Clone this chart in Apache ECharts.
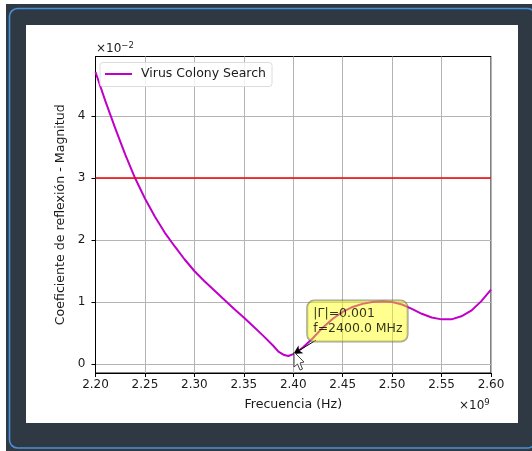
<!DOCTYPE html>
<html><head><meta charset="utf-8">
<style>html,body{margin:0;padding:0;background:#fff}#c{width:532px;height:451px}</style>
<script src="https://cdn.jsdelivr.net/npm/echarts@6/dist/echarts.min.js"></script>
</head><body><div id="c"></div>
<script>
const seriesName = 'Virus Colony Search';
const freq = [2.20,2.21,2.22,2.23,2.24,2.25,2.26,2.27,2.28,2.29,2.30,2.31,2.32,2.33,2.34,2.35,2.36,2.37,2.38,2.385,2.39,2.395,2.40,2.405,2.41,2.42,2.43,2.44,2.45,2.46,2.47,2.48,2.49,2.50,2.51,2.52,2.53,2.54,2.55,2.56,2.57,2.58,2.59,2.60];
const mag  = [4.71,4.24,3.80,3.38,3.00,2.67,2.38,2.12,1.90,1.69,1.50,1.34,1.19,1.04,0.89,0.75,0.60,0.45,0.29,0.20,0.15,0.13,0.16,0.21,0.27,0.42,0.59,0.73,0.84,0.92,0.97,1.00,1.01,1.00,0.96,0.89,0.81,0.75,0.72,0.72,0.77,0.86,1.01,1.20];
const threshold = [[2.2,3],[2.6,3]];
const xTicks = [2.2,2.25,2.3,2.35,2.4,2.45,2.5,2.55,2.6];
const yTicks = [0,1,2,3,4];
const annotPoint = [2.4,0.16];
const annotTail = [2.423,0.385];
const annotText = '|Γ|=0.001\nf=2400.0 MHz';
const font = '"DejaVu Sans"';
const ink = '#1a1a1a';

const axisCommon = {
  axisLine:{onZero:false,lineStyle:{color:'#000',width:1}},
  axisTick:{length:4,lineStyle:{color:'#000',width:1}},
  splitLine:{show:true,lineStyle:{color:'#b4b4b4',width:1}},
  nameTextStyle:{fontFamily:font,fontSize:12.6,color:ink}
};
const chart = echarts.init(document.getElementById('c'),null,{renderer:'canvas'});
chart.setOption({
  animation:false,
  backgroundColor:'#fff',
  grid:{left:95.5,right:41,top:56.5,height:316.5,show:true,borderColor:'#000',borderWidth:1,backgroundColor:'#fff'},
  legend:{
    data:[seriesName],left:100,top:62.5,orient:'horizontal',
    itemWidth:27,itemHeight:2,itemGap:6,padding:[5,6,6,5],
    backgroundColor:'rgba(255,255,255,0.8)',borderColor:'#dcdcdc',borderWidth:1,borderRadius:3,
    textStyle:{fontFamily:font,fontSize:12.5,color:ink,padding:[0,0,0,4]},
    icon:'rect'
  },
  xAxis:Object.assign({},axisCommon,{
    type:'value',min:2.2,max:2.6,name:'Frecuencia (Hz)',nameLocation:'middle',nameGap:25,
    axisTick:Object.assign({},axisCommon.axisTick,{customValues:xTicks}),
    axisLabel:{customValues:xTicks,formatter:v=>v.toFixed(2),fontFamily:font,fontSize:12,color:ink,margin:6}
  }),
  yAxis:Object.assign({},axisCommon,{
    type:'value',min:-0.145,max:4.96,name:'Coeficiente de reflexión - Magnitud',nameLocation:'middle',nameGap:20,
    axisTick:Object.assign({},axisCommon.axisTick,{customValues:yTicks}),
    axisLabel:{customValues:yTicks,formatter:v=>String(v),fontFamily:font,fontSize:12,color:ink,margin:10}
  }),
  series:[
    {name:seriesName,type:'line',data:freq.map((f,i)=>[f,mag[i]]),smooth:false,showSymbol:false,
     lineStyle:{color:'#c000c8',width:2,join:'round'},itemStyle:{color:'#c000c8'},z:3},
    {name:'Umbral',type:'line',data:threshold,showSymbol:false,lineStyle:{color:'#f00000',width:1.6},itemStyle:{color:'#f00000'},z:4},
    {name:'Anotación',type:'scatter',data:[annotPoint],symbolSize:0,z:6,silent:true,
     label:{show:true,position:[14,-53.5],align:'left',verticalAlign:'top',formatter:annotText,
       fontFamily:font,fontSize:12.5,lineHeight:15,color:'#000',
       backgroundColor:'rgba(255,255,0,0.55)',borderColor:'rgba(90,90,90,0.7)',borderWidth:1,borderRadius:7,padding:[6,5,5,6]},
     markLine:{silent:true,symbol:['arrow','none'],symbolSize:[7,9],animation:false,
       lineStyle:{color:'#000',width:1,type:'solid'},label:{show:false},
       data:[[{coord:annotPoint},{coord:annotTail}]]}}
  ],
  graphic:[
    {type:'rect',z:-20,silent:true,shape:{x:6,y:4,width:530,height:450},style:{fill:'#2f3944'}},
    {type:'rect',z:-19,silent:true,shape:{x:9.5,y:8.5,width:526,height:439.5,r:8},style:{fill:'#2f3944',stroke:'#4a90d9',lineWidth:1.6}},
    {type:'rect',z:-18,silent:true,shape:{x:26,y:25,width:492,height:398},style:{fill:'#fff'}},
    {type:'text',z:50,silent:true,left:96,top:41,style:{rich:{a:{fontFamily:font,fontSize:12,fill:ink,lineHeight:16},s:{fontFamily:font,fontSize:8.5,fill:ink,verticalAlign:'top',lineHeight:16}},text:'{a|×10}{s|−2}'}},
    {type:'text',z:50,silent:true,left:459,top:398,style:{rich:{a:{fontFamily:font,fontSize:12,fill:ink,lineHeight:16},s:{fontFamily:font,fontSize:8.5,fill:ink,verticalAlign:'top',lineHeight:16}},text:'{a|×10}{s|9}'}},
    {type:'polygon',z:60,silent:true,shape:{points:[[294,352],[294,367],[297.5,364],[300,370],[302.5,369],[300,363],[304,362]]},style:{fill:'#fff',stroke:'#444',lineWidth:1}}
  ]
});
</script></body></html>
